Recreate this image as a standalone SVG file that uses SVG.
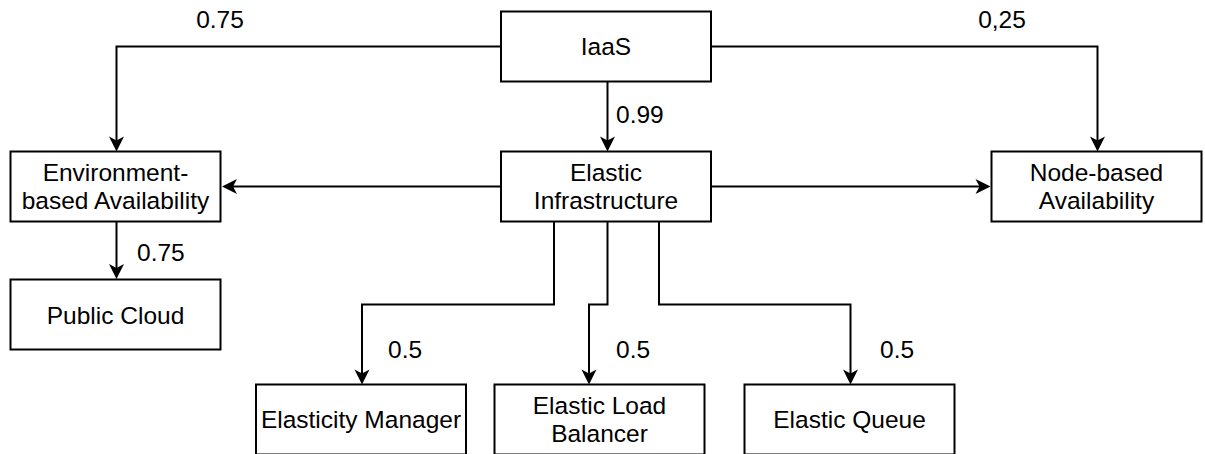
<svg xmlns="http://www.w3.org/2000/svg" width="1205" height="454" viewBox="0 0 1205 454">
  <style>
    .box { fill: #ffffff; stroke: #000000; stroke-width: 2; }
    .t { font-family: "Liberation Sans", Arial, sans-serif; font-size: 24.5px; fill: #000000; text-anchor: middle; }
    .lbl { font-family: "Liberation Sans", Arial, sans-serif; font-size: 24.5px; fill: #000000; }
    .edge { fill: none; stroke: #000000; stroke-width: 2; marker-end: url(#arrow); }
  </style>
  <defs>
    <marker id="arrow" markerUnits="userSpaceOnUse" viewBox="-16 -8 16 16" refX="-3" refY="0" markerWidth="16" markerHeight="16" orient="auto">
      <path d="M0,0 L-15,-7.5 L-11,0 L-15,7.5 Z" fill="#000000"/>
    </marker>
  </defs>
  <rect width="1205" height="454" fill="#ffffff"/>

  <g id="connectors">
    <path class="edge" d="M501,46.5 H116.5 V148.5"/>
    <path class="edge" d="M711.5,46.5 H1097.5 V148.5"/>
    <path class="edge" d="M607.5,81.5 V148.5"/>
    <path class="edge" d="M501,186.5 H225"/>
    <path class="edge" d="M711.5,186.5 H987.5"/>
    <path class="edge" d="M116.5,221.5 V276"/>
    <path class="edge" d="M554,221.5 V304.5 H362 V381.5"/>
    <path class="edge" d="M607.5,221.5 V304.5 H589 V381.5"/>
    <path class="edge" d="M659,221.5 V304.5 H850.5 V381.5"/>
  </g>

  <g id="edge-labels">
    <text class="t" x="220" y="28">0.75</text>
    <text class="t" x="1002" y="28">0,25</text>
    <text class="lbl" x="616" y="123">0.99</text>
    <text class="lbl" x="137" y="261">0.75</text>
    <text class="lbl" x="388" y="358">0.5</text>
    <text class="lbl" x="616" y="358">0.5</text>
    <text class="lbl" x="880" y="358">0.5</text>
  </g>

  <g id="node-iaas">
    <rect class="box" x="501" y="11.5" width="210" height="70"/>
    <text class="t" x="606" y="55">IaaS</text>
  </g>
  <g id="node-elastic-infrastructure">
    <rect class="box" x="501" y="151.5" width="210" height="70"/>
    <text class="t" x="606" y="181">Elastic</text>
    <text class="t" x="606" y="208.5">Infrastructure</text>
  </g>
  <g id="node-environment-based-availability">
    <rect class="box" x="10.5" y="151.5" width="210" height="70"/>
    <text class="t" x="115.5" y="181">Environment-</text>
    <text class="t" x="115.5" y="208.5">based Availability</text>
  </g>
  <g id="node-node-based-availability">
    <rect class="box" x="991.5" y="151.5" width="210" height="70"/>
    <text class="t" x="1096.5" y="181">Node-based</text>
    <text class="t" x="1096.5" y="208.5">Availability</text>
  </g>
  <g id="node-public-cloud">
    <rect class="box" x="10.5" y="279.5" width="210" height="70"/>
    <text class="t" x="115.5" y="323.5">Public Cloud</text>
  </g>
  <g id="node-elasticity-manager">
    <rect class="box" x="256" y="384.5" width="210" height="70"/>
    <text class="t" x="361" y="428">Elasticity Manager</text>
  </g>
  <g id="node-elastic-load-balancer">
    <rect class="box" x="494.5" y="384.5" width="210" height="70"/>
    <text class="t" x="599.5" y="413.5">Elastic Load</text>
    <text class="t" x="599.5" y="441.5">Balancer</text>
  </g>
  <g id="node-elastic-queue">
    <rect class="box" x="744.5" y="384.5" width="210" height="70"/>
    <text class="t" x="849.5" y="428">Elastic Queue</text>
  </g>
</svg>
